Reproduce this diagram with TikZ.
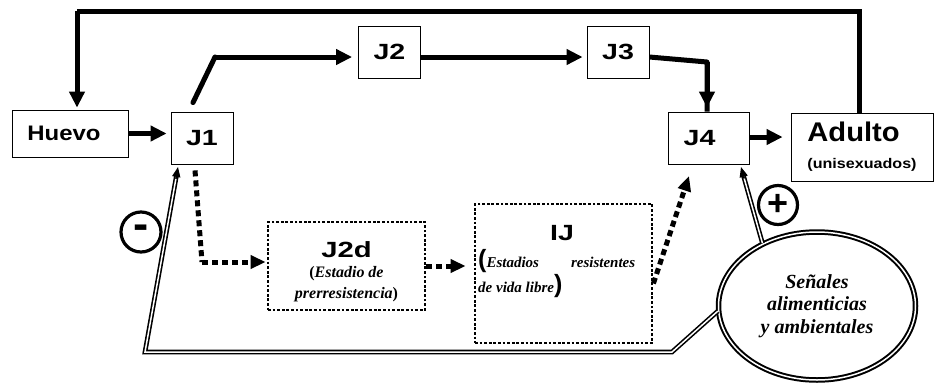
\documentclass[tikz,border=0pt]{standalone}
\usepackage{fontspec}
\usepackage{graphicx}
\setmainfont{Liberation Serif}
\setsansfont{Liberation Sans}
\usetikzlibrary{arrows.meta,shapes.geometric,calc}
\newcommand{\fs}[2]{\fontsize{#1}{#2}\selectfont}
\newcommand{\wide}[2]{\scalebox{#1}[1]{#2}}
\begin{document}
\begin{tikzpicture}[x=1pt,y=-1pt,
  box/.style={draw, line width=0.8pt, rectangle, inner sep=0pt, font=\sffamily\bfseries},
  jbox/.style={box, minimum width=62pt, minimum height=52pt, font=\sffamily\bfseries\fs{22}{24}},
  dotbox/.style={draw, line width=2.8pt, dash pattern=on 2.8pt off 1.8pt, rectangle, inner sep=0pt},
  big/.style={line width=5pt, -{Triangle[length=16pt,width=15pt]}},
  bigline/.style={line width=5pt},
  dotarrow/.style={line width=5pt, dash pattern=on 6pt off 4pt, -{Triangle[length=15pt,width=13pt]}},
  dbl/.style={draw, line width=1.6pt, double=white, double distance=1.5pt},
  dtip/.style={line width=1.6pt, -{Triangle[length=10pt,width=8pt]}},
  sign/.style={circle, draw, line width=3.2pt, minimum size=40pt, inner sep=0pt, font=\sffamily\bfseries\fs{24}{26}}
]
\useasboundingbox (0,0) rectangle (938,384);

% nodes
\node[box, minimum width=116pt, minimum height=47pt, font=\sffamily\bfseries\fs{21}{24}] (huevo) at (70,133.5) {\wide{1.14}{Huevo}\hspace{12pt}\null};
\node[jbox] (J1) at (202,138) {\wide{1.3}{J1}};
\node[jbox] (J2) at (389.5,52) {\wide{1.3}{J2}};
\node[jbox] (J3) at (618,52) {\wide{1.3}{J3}};
\node[jbox, minimum width=81pt] (J4) at (708.5,138) {\wide{1.3}{J4}\hspace{18pt}\null};
\node[box, minimum width=142pt, minimum height=68pt, align=left, font=\sffamily\bfseries\fs{27}{27}] (adulto) at (862,147)
  {\wide{1.08}{Adulto}\\{\fs{14}{27}\wide{1.15}{(unisexuados)}}};

\node[dotbox, minimum width=157pt, minimum height=88pt] (J2d) at (346.5,266) {};
\node[anchor=base, align=center, inner sep=0pt, font=\bfseries\fs{16}{20.5}] (J2dtext) at (346.5,298)
  {{\sffamily\fs{22}{20.5}\wide{1.33}{J2d}}\\
   (\textit{Estadio de}\\
   \textit{prerresistencia})};

\node[dotbox, minimum width=177pt, minimum height=139pt] (IJ) at (563.5,273.5) {};
\node[anchor=base, inner sep=0pt, font=\sffamily\bfseries\fs{22}{22}] (IJtitle) at (562,240) {\wide{1.3}{IJ}};
\node[anchor=base west, inner sep=0pt, align=left, font=\bfseries\fs{15}{25}] (IJtext) at (478,292)
  {\makebox[157pt][s]{{\sffamily\fs{25}{25}(}\textit{Estadios}\hfill\textit{resistentes}}\\
   \textit{de vida libre}{\sffamily\fs{25}{25})}};

\node[ellipse, dbl, line width=2pt, double distance=1.5pt, minimum width=197pt, minimum height=148pt,
      align=center, inner sep=0pt, font=\bfseries\itshape\fs{20}{22.5}] (sig) at (817,306)
  {Señales\\alimenticias\\y ambientales};

\node[sign] (minus) at (141,232) {\scalebox{1.9}{-}};
\node[sign, minimum size=39pt] (plus) at (778,205) {\scalebox{1.5}{+}};

% coordinates
\coordinate (top) at (0,11);
\coordinate (c12) at (215,57);
\coordinate (c34) at (707,62);
\coordinate (cd1) at (202,262);
\coordinate (cA) at (672,352);
\coordinate (cB) at (145,352);
\coordinate (tJ1) at (178,167);
\coordinate (tJ4) at (741,167);
\coordinate (tIJ) at (689,176);

% solid connectors
\draw[bigline] ([xshift=-3pt]adulto.north) -- ([xshift=-3pt]adulto.north |- top) -- ([xshift=7pt]huevo.north |- top);
\draw[big, shorten >=2pt] ([xshift=7pt]huevo.north |- top) -- ([xshift=7pt]huevo.north);
\draw[big, shorten >=4pt] (huevo.east) -- (J1.west |- huevo.east);
\draw[line width=5pt, line cap=round] ([xshift=-9pt,yshift=9pt]J1.north) -- (c12);
\draw[big, shorten >=6pt] (c12) -- (J2.west |- c12);
\draw[big, shorten >=4pt] ([yshift=-5pt]J2.east) -- ([yshift=-5pt]J3.west);
\draw[line width=5pt, line join=round] ([yshift=-5pt]J3.east) -- (c34) -- (J4.north -| c34);
\draw[big, shorten >=4pt] (c34) -- (J4.north -| c34);
\draw[big, shorten >=8pt] ([yshift=1pt]J4.east) -- ([yshift=1pt]adulto.west |- J4.east);

% dotted connectors
\draw[line width=5pt, dash pattern=on 6pt off 4pt] ([xshift=-7pt,yshift=-6pt]J1.south) -- (cd1);
\draw[dotarrow, shorten >=1pt] (cd1) -- (J2d.west |- cd1);
\draw[dotarrow, shorten >=8pt] (J2d.east) -- (IJ.west |- J2d.east);
\draw[dotarrow] ([yshift=-10pt]IJ.east) -- (tIJ);

% double connectors
\draw[dbl, line join=miter, shorten >=6pt] (sig.183) -- (cA) -- (cB) -- (tJ1);
\draw[dtip] ($(tJ1)!12pt!(cB)$) -- (tJ1);
\draw[dbl, shorten >=6pt] (sig.131) -- (tJ4);
\draw[dtip] ($(tJ4)!12pt!(sig.131)$) -- (tJ4);
\end{tikzpicture}
\end{document}
